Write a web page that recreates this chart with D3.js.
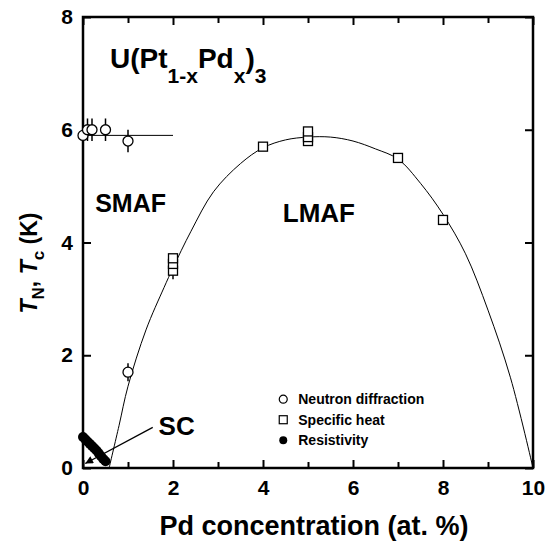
<!DOCTYPE html>
<html>
<head>
<meta charset="utf-8">
<script src="https://cdn.jsdelivr.net/npm/d3@7"></script>
<style>
body { margin: 0; background: #fff; }
text { font-family: "Liberation Sans", Arial, sans-serif; font-weight: bold; fill: #000; }
</style>
</head>
<body>
<div id="chart"></div>
<script>
// neutron diffraction (open circles) x, y, error
var neutronX = [0, 0.1, 0.2, 0.5, 1.0, 1.0]
var neutronY = [5.9, 6.0, 6.0, 6.0, 5.8, 1.7]
var neutronErr = [0, 0.2, 0.2, 0.2, 0.2, 0.16]

// specific heat (open squares)
var heatX = [2, 2, 2, 4, 5, 5, 5, 7, 8]
var heatY = [3.5, 3.62, 3.72, 5.7, 5.8, 5.87, 5.97, 5.5, 4.4]
var heatErr = [0.15, 0, 0, 0, 0.08, 0, 0.08, 0, 0]

// resistivity (filled circles)
var resX = [0, 0.05, 0.1, 0.15, 0.2, 0.25, 0.3, 0.35, 0.4, 0.45, 0.5]
var resY = [0.55, 0.51, 0.47, 0.43, 0.39, 0.35, 0.31, 0.26, 0.21, 0.16, 0.12]

// LMAF phase boundary
var lmafX = [0.58, 0.8, 1.0, 1.4, 1.8, 2.0, 2.4, 2.9, 3.5, 4.0, 4.5, 5.0, 5.5, 6.0, 6.5, 7.0, 7.5, 8.0, 8.5, 9.0, 9.5, 10]
var lmafY = [0, 0.75, 1.45, 2.45, 3.2, 3.55, 4.2, 4.9, 5.4, 5.68, 5.82, 5.87, 5.87, 5.8, 5.66, 5.48, 5.05, 4.5, 3.8, 2.8, 1.6, 0]

// SMAF boundary line
var smafX = [0, 2]
var smafY = [5.9, 5.9]

var xTicks = [0, 1, 2, 3, 4, 5, 6, 7, 8, 9, 10]
var yTicks = [0, 2, 4, 6, 8]
var legendLabels = ['Neutron diffraction', 'Specific heat', 'Resistivity']

var W = 548, H = 546
var margin = {top: 17, right: 15, bottom: 78, left: 83}
var width = W - margin.left - margin.right,
	height = H - margin.top - margin.bottom

var svg = d3.select('#chart').append('svg')
	.attr('width', W)
	.attr('height', H)

var g = svg.append('g')
	.attr('transform', 'translate(' + margin.left + ',' + margin.top + ')')

var x = d3.scaleLinear().domain([0, 10]).range([0, width])
var y = d3.scaleLinear().domain([0, 8]).range([height, 0])

function tickLen(d) { return d % 2 === 0 ? 8 : 6 }

// bottom axis
var axBottom = g.append('g')
	.attr('transform', 'translate(0,' + height + ')')
	.call(d3.axisBottom(x).tickValues(xTicks).tickSize(0).tickPadding(12)
		.tickFormat(function(d) { return d % 2 === 0 ? d : '' }))
axBottom.select('.domain').remove()
axBottom.selectAll('.tick line').attr('y2', function(d) { return -tickLen(d) })
	.attr('stroke-width', 2)
axBottom.selectAll('.tick text').style('font-size', '21px').attr('dy', '0.71em')

// top axis
var axTop = g.append('g')
	.call(d3.axisTop(x).tickValues(xTicks).tickSize(0).tickFormat(''))
axTop.select('.domain').remove()
axTop.selectAll('.tick line').attr('y2', function(d) { return tickLen(d) })
	.attr('stroke-width', 2)

// left axis
var axLeft = g.append('g')
	.call(d3.axisLeft(y).tickValues(yTicks).tickSize(-8).tickPadding(10))
axLeft.select('.domain').remove()
axLeft.selectAll('.tick line').attr('stroke-width', 2)
axLeft.selectAll('.tick text').style('font-size', '21px')

// right axis
var axRight = g.append('g')
	.attr('transform', 'translate(' + width + ',0)')
	.call(d3.axisRight(y).tickValues(yTicks).tickSize(-8).tickFormat(''))
axRight.select('.domain').remove()
axRight.selectAll('.tick line').attr('stroke-width', 2)

// frame
g.append('rect')
	.attr('width', width)
	.attr('height', height)
	.attr('fill', 'none')
	.attr('stroke', '#000')
	.attr('stroke-width', 2.5)

// lines
var line = d3.line()
	.x(function(d) { return x(d[0]) })
	.y(function(d) { return y(d[1]) })

g.append('path')
	.datum(d3.zip(smafX, smafY))
	.attr('d', line)
	.attr('fill', 'none')
	.attr('stroke', '#000')
	.attr('stroke-width', 1)

g.append('path')
	.datum(d3.zip(lmafX, lmafY))
	.attr('d', line.curve(d3.curveCatmullRom))
	.attr('fill', 'none')
	.attr('stroke', '#000')
	.attr('stroke-width', 1)

// error bars
var nData = d3.zip(neutronX, neutronY, neutronErr)
g.selectAll('.nerr').data(nData.filter(function(d) { return d[2] > 0 }))
	.enter().append('line')
	.attr('x1', function(d) { return x(d[0]) })
	.attr('x2', function(d) { return x(d[0]) })
	.attr('y1', function(d) { return y(d[1] + d[2]) })
	.attr('y2', function(d) { return y(d[1] - d[2]) })
	.attr('stroke', '#000')
	.attr('stroke-width', 1.5)

var hData = d3.zip(heatX, heatY, heatErr)
g.selectAll('.herr').data(hData.filter(function(d) { return d[2] > 0 }))
	.enter().append('line')
	.attr('x1', function(d) { return x(d[0]) })
	.attr('x2', function(d) { return x(d[0]) })
	.attr('y1', function(d) { return y(d[1] + d[2]) })
	.attr('y2', function(d) { return y(d[1] - d[2]) })
	.attr('stroke', '#000')
	.attr('stroke-width', 1.5)

// neutron circles
g.selectAll('.neutron').data(nData)
	.enter().append('circle')
	.attr('cx', function(d) { return x(d[0]) })
	.attr('cy', function(d) { return y(d[1]) })
	.attr('r', 5)
	.attr('fill', '#fff')
	.attr('stroke', '#000')
	.attr('stroke-width', 1.3)

// specific heat squares
g.selectAll('.heat').data(hData)
	.enter().append('rect')
	.attr('x', function(d) { return x(d[0]) - 4.5 })
	.attr('y', function(d) { return y(d[1]) - 4.5 })
	.attr('width', 9)
	.attr('height', 9)
	.attr('fill', '#fff')
	.attr('stroke', '#000')
	.attr('stroke-width', 1.3)

// resistivity dots
g.selectAll('.res').data(d3.zip(resX, resY))
	.enter().append('circle')
	.attr('cx', function(d) { return x(d[0]) })
	.attr('cy', function(d) { return y(d[1]) })
	.attr('r', 5)
	.attr('fill', '#000')

// SC arrow
svg.append('defs').append('marker')
	.attr('id', 'arrow')
	.attr('viewBox', '0 0 10 10')
	.attr('refX', 10).attr('refY', 5)
	.attr('markerWidth', 7).attr('markerHeight', 6)
	.attr('orient', 'auto')
	.append('path')
	.attr('d', 'M0,0 L10,5 L0,10 z')
	.attr('fill', '#000')

g.append('line')
	.attr('x1', x(1.55)).attr('y1', y(0.72))
	.attr('x2', x(0.05)).attr('y2', y(0.08))
	.attr('stroke', '#000')
	.attr('stroke-width', 1.3)
	.attr('marker-end', 'url(#arrow)')

// region labels
g.append('text').attr('x', x(1.68)).attr('y', y(0.58)).style('font-size', '26px').text('SC')
g.append('text').attr('x', x(0.27)).attr('y', y(4.54)).style('font-size', '25px').text('SMAF')
g.append('text').attr('x', x(4.44)).attr('y', y(4.36)).style('font-size', '26px').text('LMAF')

// compound name
var title = g.append('text').attr('x', x(0.6)).attr('y', y(7.1)).style('font-size', '28px')
title.append('tspan').text('U(Pt')
title.append('tspan').attr('dy', 15).style('font-size', '21px').text('1-x')
title.append('tspan').attr('dy', -15).text('Pd')
title.append('tspan').attr('dy', 15).style('font-size', '21px').text('x')
title.append('tspan').attr('dy', -15).text(')')
title.append('tspan').attr('dy', 15).style('font-size', '21px').text('3')

// legend
var leg = g.append('g').attr('transform', 'translate(' + (x(4.45)) + ',' + (y(1.22)) + ')')
legendLabels.forEach(function(lbl, i) {
	var row = leg.append('g').attr('transform', 'translate(0,' + (i * 20.5) + ')')
	if (i === 0) row.append('circle').attr('r', 4).attr('fill', '#fff').attr('stroke', '#000').attr('stroke-width', 1.2)
	if (i === 1) row.append('rect').attr('x', -4).attr('y', -4).attr('width', 8).attr('height', 8).attr('fill', '#fff').attr('stroke', '#000').attr('stroke-width', 1.2)
	if (i === 2) row.append('circle').attr('r', 4).attr('fill', '#000')
	row.append('text').attr('x', 15).attr('dy', '0.35em').style('font-size', '14px').text(lbl)
})

// axis titles
svg.append('text')
	.attr('x', 314)
	.attr('y', 535)
	.attr('text-anchor', 'middle')
	.style('font-size', '27px')
	.text('Pd concentration (at. %)')

var yt = svg.append('text')
	.attr('transform', 'translate(37,263) rotate(-90)')
	.attr('text-anchor', 'middle')
	.style('font-size', '23px')
yt.append('tspan').style('font-style', 'italic').text('T')
yt.append('tspan').attr('dy', 7).style('font-size', '17px').text('N')
yt.append('tspan').attr('dy', -7).text(', ')
yt.append('tspan').style('font-style', 'italic').text('T')
yt.append('tspan').attr('dy', 7).style('font-size', '17px').text('c')
yt.append('tspan').attr('dy', -7).text(' (K)')
</script>
</body>
</html>
